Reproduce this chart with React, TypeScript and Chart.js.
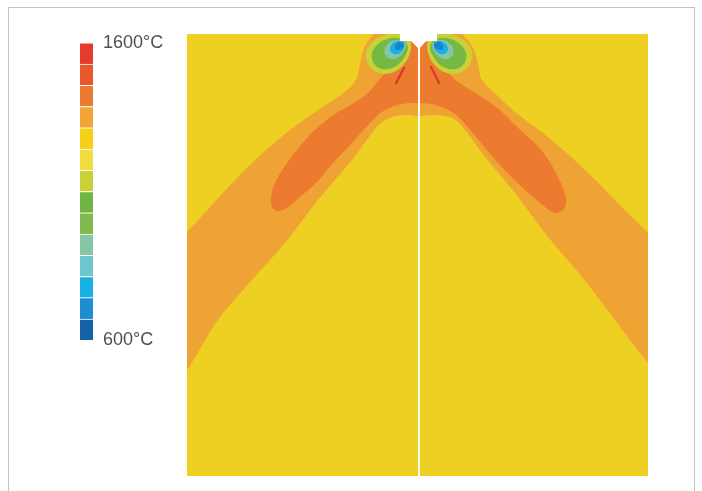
import React, { useEffect, useRef } from "react";
import { Chart, registerables } from "chart.js";

Chart.register(...registerables);

type P = [number, number];

// ---- Temperature field (r = radial position, z = depth below burner) ----
const fieldRange = { rMin: -231, rMax: 230, zMin: 0, zMax: 442 };

const zone1400Background: P[] = [[-300, -50], [300, -50], [300, 500], [-300, 500], [-300, -50]];

const zone1450Band: P[] = [
  [-268, 236], [-231, 198], [-198, 162], [-166, 129], [-133, 100], [-100, 76], [-76, 60], [-62, 46],
  [-58, 30], [-54, 14], [-46, 2], [-38, -4], [38, -4], [48, 4], [56, 16], [60, 30], [64, 46],
  [82, 64], [97, 78], [130, 103], [164, 133], [197, 166], [230, 199], [272, 241],
  [272, 376], [230, 329], [197, 286], [164, 243], [130, 203], [97, 159], [64, 119], [47, 96],
  [34, 84], [17, 81], [0, 82], [-16, 81], [-33, 86], [-46, 99], [-66, 126], [-100, 166],
  [-133, 209], [-166, 246], [-200, 286], [-231, 336], [-268, 386], [-268, 236],
];

const zone1530Core: P[] = [
  [-146, 174], [-147, 163], [-143, 149], [-133, 132], [-118, 112], [-100, 93], [-83, 80], [-66, 70],
  [-52, 61], [-40, 47], [-28, 34], [-18, 26], [-11, 16], [-7, 8], [8, 8], [12, 16], [18, 26],
  [28, 36], [40, 48], [64, 63], [82, 76], [97, 91], [124, 117], [140, 143], [148, 164],
  [146, 175], [137, 179], [127, 173], [107, 156], [80, 129], [57, 102], [37, 80], [17, 71],
  [0, 69], [-16, 70], [-33, 76], [-46, 87], [-66, 109], [-83, 127], [-100, 147], [-118, 163],
  [-130, 173], [-139, 177], [-146, 174],
];

const zone1170LeftVortex: P[] = [
  [-8, 6], [-14, 1], [-24, -1], [-36, 2], [-46, 8], [-52, 18], [-51, 28], [-45, 36], [-34, 40],
  [-22, 37], [-13, 29], [-8, 19], [-7, 11], [-8, 6],
];
const zone1100LeftVortex: P[] = [
  [-12, 8], [-20, 4], [-31, 5], [-41, 11], [-46, 19], [-45, 28], [-39, 34], [-29, 35], [-19, 30],
  [-13, 22], [-10, 14], [-12, 8],
];
const zone960LeftVortex: P[] = [
  [-13, 8], [-20, 6], [-28, 8], [-33, 14], [-33, 21], [-27, 25], [-19, 23], [-14, 17], [-12, 12], [-13, 8],
];
const zone750LeftVortex: P[] = [
  [-14, 8], [-20, 7], [-26, 10], [-28, 16], [-24, 20], [-18, 19], [-14, 14], [-14, 8],
];
const zone680LeftVortex: P[] = [
  [-15, 9], [-20, 8], [-23, 12], [-22, 16], [-17, 15], [-14, 12], [-15, 9],
];

const zone1170RightVortex: P[] = [
  [10, 6], [16, 1], [26, -1], [38, 2], [48, 8], [54, 18], [53, 28], [47, 36], [36, 40],
  [24, 37], [15, 29], [10, 19], [9, 11], [10, 6],
];
const zone1100RightVortex: P[] = [
  [14, 8], [22, 4], [33, 5], [43, 11], [48, 19], [47, 28], [41, 34], [31, 35], [21, 30],
  [15, 22], [12, 14], [14, 8],
];
const zone960RightVortex: P[] = [
  [15, 8], [22, 6], [30, 8], [35, 14], [35, 21], [29, 25], [21, 23], [16, 17], [14, 12], [15, 8],
];
const zone750RightVortex: P[] = [
  [16, 8], [22, 7], [28, 10], [30, 16], [26, 20], [20, 19], [16, 14], [16, 8],
];
const zone680RightVortex: P[] = [
  [17, 9], [22, 8], [25, 12], [24, 16], [19, 15], [16, 12], [17, 9],
];

const peakLeftStreak: P[] = [[-14, 34], [-22, 49]];
const peakRightStreak: P[] = [[13, 33], [21, 49]];

const burnerNozzle: P[] = [[-18, -6], [-18, 7], [-7, 7], [1, 15], [8, 7], [19, 7], [19, -6], [-18, -6]];
const symmetryAxis: P[] = [[1, 14], [1, 450]];

// ---- Colour scale ----
const scaleTickLabels = [600, 1600];
const levelBounds = [600, 671.4, 742.9, 814.3, 885.7, 957.1, 1028.6, 1100, 1171.4, 1242.9, 1314.3, 1385.7, 1457.1, 1528.6, 1600];
const levelColors = [
  "#1762a9", "#1d8fd0", "#17b0e3", "#6ec5cd", "#85c6a4", "#82b94e", "#71b543",
  "#c9d136", "#f2dc40", "#f5d314", "#f0a534", "#ec7a30", "#e9582d", "#e53b2e",
];

const fieldColors = {
  background: "#edd021",
  band: "#f0a335",
  core: "#ec7b30",
  ring: "#c9d136",
  green: "#76b844",
  teal: "#85c6a8",
  cyan: "#18b0e3",
  blue: "#1b82c9",
  peak: "#e0392b",
};

function poly(label: string, pts: P[], color: string, order: number, tension = 0.35) {
  return {
    label,
    data: pts.map(([x, y]) => ({ x, y })),
    showLine: true,
    fill: "shape" as const,
    backgroundColor: color,
    borderColor: color,
    borderWidth: 0,
    pointRadius: 0,
    tension,
    order,
  };
}

function line(label: string, pts: P[], color: string, width: number, order: number) {
  return {
    label,
    data: pts.map(([x, y]) => ({ x, y })),
    showLine: true,
    fill: false,
    borderColor: color,
    backgroundColor: color,
    borderWidth: width,
    pointRadius: 0,
    tension: 0,
    order,
    borderCapStyle: "round" as const,
  };
}

function FieldChart() {
  const ref = useRef<HTMLCanvasElement>(null);
  useEffect(() => {
    if (!ref.current) return;
    const c = fieldColors;
    const chart = new Chart(ref.current, {
      type: "scatter",
      data: {
        datasets: [
          poly("1400", zone1400Background, c.background, 100, 0),
          poly("1450", zone1450Band, c.band, 90),
          poly("1530", zone1530Core, c.core, 80),
          poly("L1170", zone1170LeftVortex, c.ring, 70),
          poly("R1170", zone1170RightVortex, c.ring, 70),
          poly("L1100", zone1100LeftVortex, c.green, 60),
          poly("R1100", zone1100RightVortex, c.green, 60),
          poly("L960", zone960LeftVortex, c.teal, 50),
          poly("R960", zone960RightVortex, c.teal, 50),
          poly("L750", zone750LeftVortex, c.cyan, 40),
          poly("R750", zone750RightVortex, c.cyan, 40),
          poly("L680", zone680LeftVortex, c.blue, 35),
          poly("R680", zone680RightVortex, c.blue, 35),
          line("peakL", peakLeftStreak, c.peak, 2.5, 30),
          line("peakR", peakRightStreak, c.peak, 2.5, 30),
          poly("nozzle", burnerNozzle, "#ffffff", 20, 0),
          line("axis", symmetryAxis, "#fffdf2", 2, 10),
        ] as any,
      },
      options: {
        animation: false,
        responsive: false,
        devicePixelRatio: 1,
        layout: { padding: 0 },
        elements: { line: { capBezierPoints: false } as any },
        plugins: { legend: { display: false }, tooltip: { enabled: false } },
        scales: {
          x: { type: "linear", min: fieldRange.rMin, max: fieldRange.rMax, display: false },
          y: { type: "linear", min: fieldRange.zMin, max: fieldRange.zMax, reverse: true, display: false },
        },
      },
    });
    return () => chart.destroy();
  }, []);
  return (
    <canvas
      ref={ref}
      width={461}
      height={442}
      style={{ position: "absolute", left: 187, top: 34, width: 461, height: 442, display: "block" }}
    />
  );
}

function ColorScale() {
  const ref = useRef<HTMLCanvasElement>(null);
  useEffect(() => {
    if (!ref.current) return;
    const datasets = levelColors.map((col, i) => ({
      label: String(levelBounds[i]),
      data: [[levelBounds[i], levelBounds[i + 1]]],
      backgroundColor: col,
      borderColor: "#ffffff",
      borderWidth: { top: 1, bottom: 0, left: 0, right: 0 },
      borderSkipped: false,
      grouped: false,
      barPercentage: 1,
      categoryPercentage: 1,
    }));
    const chart = new Chart(ref.current, {
      type: "bar",
      data: { labels: ["T"], datasets: datasets as any },
      options: {
        animation: false,
        responsive: false,
        devicePixelRatio: 1,
        layout: { padding: { top: 13, bottom: 15, left: 0, right: 0 } },
        plugins: { legend: { display: false }, tooltip: { enabled: false } },
        scales: {
          x: { display: false },
          y: {
            position: "right",
            min: scaleTickLabels[0],
            max: scaleTickLabels[1],
            afterBuildTicks: (s: any) => {
              s.ticks = scaleTickLabels.map((v) => ({ value: v }));
            },
            afterFit: (s: any) => {
              s.width = 75;
            },
            grid: { display: false, drawTicks: false },
            border: { display: false },
            ticks: {
              padding: 10,
              color: "#505050",
              font: { family: "'Liberation Sans', Arial, sans-serif", size: 18 },
              callback: (v: any) => `${v}°C`,
            },
          },
        },
      },
    });
    return () => chart.destroy();
  }, []);
  return (
    <canvas
      ref={ref}
      width={88}
      height={339}
      style={{ position: "absolute", left: 80, top: 22, width: 88, height: 339, display: "block" }}
    />
  );
}

export default function App() {
  return (
    <div style={{ position: "fixed", left: 0, top: 0, width: 702, height: 491, background: "#ffffff", overflow: "hidden" }}>
      <div
        style={{
          position: "absolute",
          left: 8,
          top: 7,
          width: 687,
          height: 520,
          border: "1px solid #c2c4c2",
          boxSizing: "border-box",
        }}
      />
      <ColorScale />
      <FieldChart />
    </div>
  );
}
